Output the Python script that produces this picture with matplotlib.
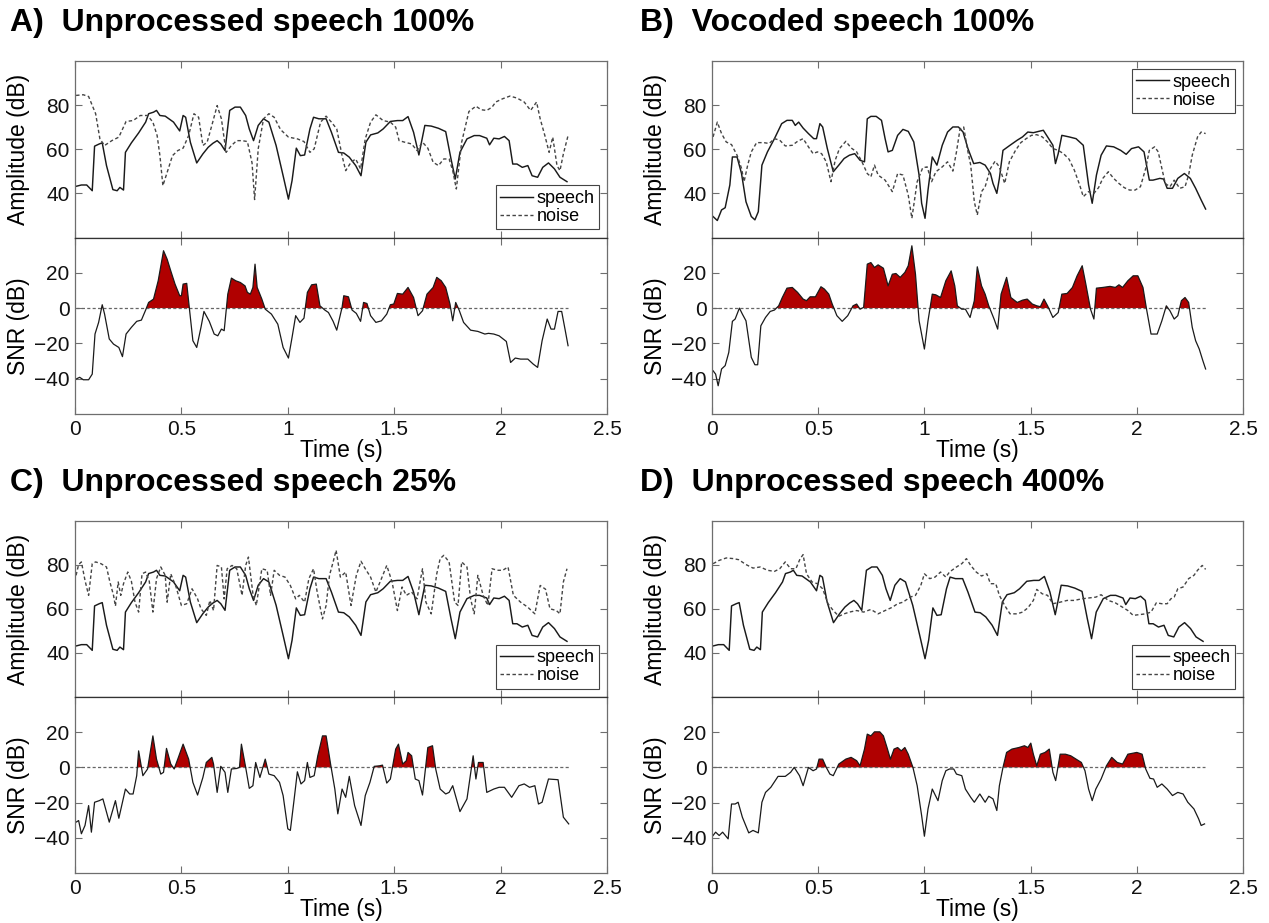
import numpy as np
import matplotlib
matplotlib.use('Agg')
import matplotlib.pyplot as plt

plt.rcParams['font.family'] = ['Liberation Sans', 'DejaVu Sans']

# ---------------- data: (time s, value dB) ----------------
# unprocessed speech envelope (same in panels A, C, D)
speech_unproc = [
    (0.005, 43.2), (0.030, 43.8), (0.055, 43.8), (0.081, 41.2), (0.092, 61.4), (0.114, 62.4),
    (0.128, 62.9), (0.148, 52.6), (0.178, 41.7), (0.198, 41.2), (0.211, 42.7), (0.228, 41.5),
    (0.237, 58.6), (0.265, 62.9), (0.299, 67.4), (0.332, 72.3), (0.346, 76.1), (0.369, 76.8),
    (0.383, 77.6), (0.399, 75.3), (0.424, 75.0), (0.463, 72.3), (0.492, 68.3), (0.508, 75.3),
    (0.520, 74.5), (0.542, 63.2), (0.572, 53.8), (0.601, 57.9), (0.626, 60.9), (0.648, 62.7),
    (0.668, 63.9), (0.685, 62.4), (0.705, 59.4), (0.727, 77.6), (0.752, 79.1), (0.777, 79.1),
    (0.802, 75.3), (0.819, 69.2), (0.839, 63.9), (0.861, 70.8), (0.886, 73.8), (0.911, 72.3),
    (0.945, 61.7), (0.978, 48.0), (1.003, 37.4), (1.020, 45.8), (1.040, 60.5), (1.059, 57.1),
    (1.079, 57.4), (1.104, 69.2), (1.121, 74.5), (1.146, 73.8), (1.180, 73.8), (1.205, 67.7),
    (1.238, 58.6), (1.263, 58.3), (1.289, 56.4), (1.319, 52.6), (1.344, 48.0), (1.367, 63.2),
    (1.389, 66.5), (1.423, 67.4), (1.448, 69.2), (1.482, 72.6), (1.515, 73.0), (1.540, 73.0),
    (1.565, 74.8), (1.591, 67.7), (1.616, 57.4), (1.644, 70.8), (1.674, 70.5), (1.708, 69.5),
    (1.742, 68.0), (1.767, 55.6), (1.787, 46.5), (1.809, 58.6), (1.842, 64.7), (1.876, 66.2),
    (1.901, 66.2), (1.935, 65.0), (1.948, 62.0), (1.968, 65.0), (1.993, 64.7), (2.018, 65.8),
    (2.040, 63.9), (2.057, 53.3), (2.077, 53.3), (2.102, 51.8), (2.128, 52.6), (2.148, 48.0),
    (2.174, 47.3), (2.198, 51.8), (2.225, 53.8), (2.253, 51.1), (2.279, 47.3), (2.312, 45.3),
]

# A) noise at 100 %
noise_a = [
    (0.005, 84.4), (0.039, 84.7), (0.064, 83.9), (0.097, 76.1), (0.117, 64.7), (0.139, 61.7),
    (0.173, 63.9), (0.206, 65.5), (0.240, 72.6), (0.273, 73.0), (0.307, 75.3), (0.341, 75.3),
    (0.366, 72.3), (0.386, 66.2), (0.399, 57.1), (0.413, 43.5), (0.433, 49.5), (0.458, 57.1),
    (0.483, 59.4), (0.508, 60.5), (0.534, 66.2), (0.559, 76.1), (0.581, 74.5), (0.601, 61.7),
    (0.621, 63.2), (0.643, 70.8), (0.668, 79.8), (0.688, 73.8), (0.710, 58.6), (0.735, 61.7),
    (0.760, 63.9), (0.785, 63.9), (0.810, 63.5), (0.832, 53.8), (0.844, 37.2), (0.861, 60.2),
    (0.886, 73.8), (0.911, 76.1), (0.936, 74.5), (0.966, 68.9), (1.003, 65.5), (1.045, 64.7),
    (1.076, 63.5), (1.104, 58.6), (1.124, 60.2), (1.154, 72.3), (1.180, 75.0), (1.205, 72.3),
    (1.230, 69.2), (1.255, 57.1), (1.272, 50.3), (1.297, 54.1), (1.319, 55.6), (1.342, 51.1),
    (1.364, 64.7), (1.389, 72.3), (1.414, 75.6), (1.448, 73.0), (1.482, 72.3), (1.507, 70.0),
    (1.523, 63.9), (1.549, 63.2), (1.582, 62.4), (1.607, 59.4), (1.633, 63.2), (1.658, 60.5),
    (1.683, 54.1), (1.708, 52.6), (1.733, 55.6), (1.758, 55.6), (1.775, 50.3), (1.792, 42.0),
    (1.817, 63.2), (1.851, 77.1), (1.884, 79.5), (1.909, 77.9), (1.935, 77.6), (1.960, 79.1),
    (1.977, 81.4), (2.010, 82.9), (2.044, 84.1), (2.077, 83.2), (2.111, 81.4), (2.141, 77.6),
    (2.169, 81.4), (2.186, 73.8), (2.208, 66.2), (2.228, 58.6), (2.245, 65.5), (2.265, 52.6),
    (2.279, 50.3), (2.295, 57.9), (2.317, 66.2),
]

snr_a = [
    (0.005, -40.2), (0.022, -39.2), (0.039, -40.6), (0.064, -40.6), (0.081, -37.4), (0.094, -14.7),
    (0.111, -8.1), (0.128, 1.9), (0.139, -3.4), (0.161, -17.5), (0.181, -20.4), (0.206, -22.3),
    (0.223, -27.5), (0.240, -14.7), (0.265, -10.9), (0.290, -7.5), (0.312, -6.8), (0.332, -1.1),
    (0.346, 3.2), (0.369, 5.1), (0.391, 15.5), (0.416, 32.5), (0.433, 27.7), (0.450, 21.1),
    (0.470, 13.6), (0.492, 7.0), (0.500, 7.0), (0.508, 13.6), (0.525, 14.0), (0.537, 0.4),
    (0.554, -18.5), (0.572, -22.3), (0.592, -10.9), (0.606, -1.9), (0.631, -7.5), (0.654, -14.7),
    (0.671, -15.7), (0.688, -11.9), (0.701, -12.8), (0.718, 7.9), (0.735, 17.0), (0.755, 15.5),
    (0.777, 14.5), (0.799, 12.6), (0.810, 8.9), (0.824, 7.9), (0.836, 11.7), (0.846, 24.9),
    (0.856, 11.7), (0.878, 5.1), (0.894, -0.6), (0.923, -3.4), (0.953, -9.1), (0.978, -22.3),
    (1.003, -28.3), (1.020, -16.6), (1.037, -4.3), (1.057, -8.1), (1.076, -5.7), (1.092, 8.9),
    (1.112, 13.2), (1.134, 13.6), (1.151, 1.3), (1.174, -1.1), (1.191, -2.5), (1.213, -7.5),
    (1.230, -12.5), (1.255, 0.4), (1.263, 7.0), (1.285, 6.4), (1.302, -1.1), (1.322, -3.0),
    (1.342, -7.5), (1.356, 3.2), (1.372, 2.6), (1.389, -4.3), (1.414, -8.1), (1.440, -7.2),
    (1.465, -3.4), (1.482, 1.9), (1.498, 2.3), (1.515, 8.3), (1.540, 7.9), (1.565, 11.7),
    (1.591, 6.0), (1.612, -4.3), (1.633, -1.5), (1.654, 7.9), (1.683, 11.7), (1.700, 17.4),
    (1.721, 15.5), (1.742, 11.7), (1.762, 2.3), (1.775, -7.2), (1.789, 3.2), (1.805, -1.1),
    (1.826, -8.1), (1.859, -12.5), (1.893, -13.2), (1.926, -14.7), (1.943, -14.3), (1.968, -14.7),
    (1.993, -15.7), (2.027, -18.9), (2.047, -30.8), (2.069, -28.3), (2.094, -28.9), (2.128, -28.9),
    (2.153, -31.7), (2.174, -33.6), (2.195, -18.5), (2.219, -6.2), (2.237, -11.9), (2.253, -11.9),
    (2.270, -1.9), (2.287, -1.9), (2.304, -12.8), (2.317, -21.3),
]

# B) vocoded speech and noise at 100 %
speech_b = [
    (0.005, 29.5), (0.025, 27.7), (0.045, 32.5), (0.062, 33.5), (0.084, 43.8), (0.096, 56.5),
    (0.118, 56.5), (0.139, 49.0), (0.160, 36.2), (0.185, 29.5), (0.202, 28.0), (0.218, 31.7),
    (0.235, 52.8), (0.261, 58.8), (0.294, 64.8), (0.328, 71.6), (0.353, 73.1), (0.378, 73.1),
    (0.392, 70.8), (0.408, 72.3), (0.429, 69.6), (0.454, 67.1), (0.479, 64.8), (0.492, 64.8),
    (0.508, 71.6), (0.521, 70.1), (0.543, 60.3), (0.571, 49.8), (0.597, 52.8), (0.622, 55.8),
    (0.647, 57.3), (0.672, 58.0), (0.697, 55.0), (0.718, 54.3), (0.731, 73.8), (0.748, 74.9),
    (0.773, 74.9), (0.798, 73.1), (0.815, 64.8), (0.829, 58.8), (0.849, 59.5), (0.874, 66.3),
    (0.899, 69.0), (0.924, 68.1), (0.950, 63.3), (0.975, 48.3), (0.987, 35.5), (1.003, 28.7),
    (1.017, 41.5), (1.037, 56.5), (1.059, 52.8), (1.084, 61.8), (1.109, 67.8), (1.134, 70.1),
    (1.160, 70.1), (1.182, 67.8), (1.205, 60.3), (1.232, 53.5), (1.261, 54.0), (1.286, 52.8),
    (1.311, 49.0), (1.323, 44.5), (1.341, 40.0), (1.353, 46.8), (1.370, 59.5), (1.403, 61.8),
    (1.437, 64.1), (1.462, 65.6), (1.487, 67.8), (1.513, 67.5), (1.538, 68.1), (1.560, 68.6),
    (1.580, 65.6), (1.605, 61.8), (1.617, 53.5), (1.630, 58.0), (1.647, 66.3), (1.681, 65.6),
    (1.714, 64.8), (1.748, 61.8), (1.773, 43.8), (1.790, 35.5), (1.810, 48.3), (1.832, 57.3),
    (1.857, 61.5), (1.891, 61.1), (1.924, 59.5), (1.950, 57.7), (1.975, 60.3), (2.008, 61.1),
    (2.034, 58.8), (2.059, 46.0), (2.076, 46.0), (2.109, 46.8), (2.126, 46.5), (2.143, 42.3),
    (2.168, 42.3), (2.193, 46.8), (2.224, 49.0), (2.252, 46.8), (2.277, 42.3), (2.303, 37.0),
    (2.324, 32.9),
]

noise_b = [
    (0.005, 65.6), (0.025, 72.3), (0.045, 67.1), (0.067, 63.3), (0.092, 62.1), (0.118, 57.3),
    (0.139, 51.3), (0.151, 45.3), (0.168, 52.8), (0.185, 58.8), (0.210, 63.0), (0.244, 63.0),
    (0.269, 62.6), (0.294, 64.8), (0.319, 64.1), (0.345, 61.5), (0.378, 61.8), (0.403, 63.6),
    (0.429, 64.8), (0.454, 61.1), (0.476, 58.0), (0.496, 58.8), (0.516, 58.0), (0.538, 54.3),
    (0.560, 45.3), (0.580, 55.0), (0.600, 60.3), (0.630, 63.6), (0.655, 60.6), (0.681, 58.8),
    (0.706, 54.3), (0.731, 49.0), (0.748, 47.5), (0.765, 52.8), (0.782, 48.3), (0.815, 46.0),
    (0.849, 40.8), (0.874, 49.0), (0.899, 48.3), (0.924, 39.2), (0.941, 28.7), (0.966, 45.3),
    (0.992, 51.6), (1.013, 52.0), (1.034, 45.3), (1.054, 49.8), (1.084, 52.0), (1.109, 54.3),
    (1.134, 50.1), (1.151, 58.8), (1.168, 69.3), (1.185, 70.1), (1.202, 60.3), (1.218, 52.8),
    (1.235, 36.2), (1.249, 30.2), (1.269, 40.8), (1.286, 43.0), (1.311, 51.3), (1.333, 54.6),
    (1.353, 52.0), (1.378, 44.5), (1.400, 54.3), (1.429, 59.5), (1.454, 63.0), (1.479, 64.8),
    (1.504, 66.3), (1.529, 66.6), (1.555, 65.6), (1.580, 63.3), (1.605, 60.3), (1.630, 59.5),
    (1.655, 58.0), (1.681, 55.5), (1.706, 50.5), (1.731, 43.8), (1.748, 38.5), (1.773, 40.8),
    (1.798, 40.0), (1.820, 42.6), (1.840, 46.8), (1.866, 49.8), (1.891, 46.8), (1.916, 44.5),
    (1.941, 42.6), (1.966, 41.5), (1.992, 41.5), (2.017, 43.0), (2.042, 51.3), (2.059, 59.5),
    (2.084, 61.1), (2.101, 58.8), (2.118, 51.3), (2.134, 44.5), (2.156, 43.0), (2.176, 46.0),
    (2.202, 42.3), (2.227, 43.0), (2.244, 48.3), (2.261, 57.3), (2.286, 65.6), (2.303, 67.8),
    (2.324, 67.1),
]

snr_b = [
    (0.005, -35.5), (0.017, -37.4), (0.029, -44.0), (0.045, -34.5), (0.062, -32.6), (0.079, -25.1),
    (0.096, -7.5), (0.109, -6.2), (0.129, 0.0), (0.143, -3.4), (0.160, -7.2), (0.185, -27.9),
    (0.202, -32.1), (0.215, -32.1), (0.230, -10.0), (0.252, -5.3), (0.274, -1.9), (0.294, -1.1),
    (0.314, 1.3), (0.331, 6.0), (0.353, 11.3), (0.378, 11.7), (0.403, 8.9), (0.429, 5.1),
    (0.445, 4.2), (0.462, 6.4), (0.487, 6.4), (0.513, 12.1), (0.529, 10.8), (0.550, 7.9),
    (0.566, 2.3), (0.588, -4.3), (0.613, -7.5), (0.639, -4.3), (0.664, 1.3), (0.681, 2.3),
    (0.697, -0.6), (0.714, 0.4), (0.731, 24.9), (0.748, 25.8), (0.765, 23.0), (0.782, 24.5),
    (0.807, 22.6), (0.829, 12.6), (0.849, 19.2), (0.866, 19.6), (0.886, 17.4), (0.908, 20.2),
    (0.924, 24.0), (0.941, 35.3), (0.958, 19.2), (0.975, -7.2), (1.000, -23.2), (1.017, -7.2),
    (1.037, 7.9), (1.054, 7.5), (1.076, 6.0), (1.101, 15.5), (1.126, 21.1), (1.143, 12.6),
    (1.155, 1.3), (1.176, -0.6), (1.193, -0.6), (1.215, -5.3), (1.235, 4.2), (1.249, 23.4),
    (1.269, 12.6), (1.286, 7.9), (1.303, 1.3), (1.328, -6.2), (1.345, -11.9), (1.361, 7.9),
    (1.387, 17.4), (1.407, 6.0), (1.437, 3.2), (1.462, 4.5), (1.484, 5.1), (1.508, 2.3),
    (1.529, 1.3), (1.546, 0.8), (1.563, 5.1), (1.580, 1.3), (1.605, -5.3), (1.630, -2.5),
    (1.647, 7.9), (1.672, 8.3), (1.697, 11.7), (1.719, 18.3), (1.743, 24.0), (1.760, 13.6),
    (1.782, -0.6), (1.798, -6.2), (1.810, 11.3), (1.840, 11.7), (1.874, 12.3), (1.899, 11.7),
    (1.916, 13.2), (1.933, 11.7), (1.958, 15.5), (1.983, 18.3), (2.005, 18.3), (2.029, 11.7),
    (2.045, 0.0), (2.067, -14.7), (2.096, -14.7), (2.118, -7.2), (2.139, 1.3), (2.156, -1.5),
    (2.176, -6.2), (2.193, -4.3), (2.210, 4.2), (2.227, 6.0), (2.244, 3.2), (2.261, -10.9),
    (2.277, -18.5), (2.294, -23.2), (2.311, -29.8), (2.324, -34.5),
]

# C) noise at 25 %
noise_c = [
    (0.005, 75.3), (0.017, 80.2), (0.030, 81.4), (0.047, 73.0), (0.064, 66.2), (0.081, 80.6),
    (0.097, 81.4), (0.122, 80.6), (0.148, 79.1), (0.164, 72.3), (0.181, 66.2), (0.190, 61.3),
    (0.203, 72.3), (0.215, 66.2), (0.228, 71.5), (0.248, 76.8), (0.265, 72.6), (0.282, 63.1),
    (0.299, 58.6), (0.315, 76.0), (0.332, 76.8), (0.349, 72.6), (0.366, 58.6), (0.383, 73.8),
    (0.403, 79.1), (0.424, 75.3), (0.433, 63.1), (0.450, 76.0), (0.475, 70.0), (0.500, 61.6),
    (0.525, 62.4), (0.550, 69.2), (0.576, 64.6), (0.592, 60.1), (0.617, 57.1), (0.634, 63.9),
    (0.651, 59.3), (0.668, 79.8), (0.688, 79.1), (0.701, 64.6), (0.715, 78.3), (0.738, 79.8),
    (0.760, 78.3), (0.785, 66.2), (0.802, 79.8), (0.815, 83.6), (0.836, 66.9), (0.852, 61.6),
    (0.878, 78.3), (0.903, 77.6), (0.919, 66.2), (0.936, 77.6), (0.961, 75.3), (0.987, 74.5),
    (1.012, 70.7), (1.037, 64.6), (1.054, 66.2), (1.079, 63.1), (1.099, 73.8), (1.121, 78.3),
    (1.138, 67.7), (1.163, 55.5), (1.180, 61.6), (1.196, 75.3), (1.213, 81.4), (1.227, 86.7),
    (1.247, 74.5), (1.272, 76.8), (1.297, 61.6), (1.322, 75.3), (1.344, 81.7), (1.364, 78.3),
    (1.389, 74.5), (1.414, 67.7), (1.440, 73.8), (1.465, 79.8), (1.490, 72.3), (1.515, 59.3),
    (1.537, 70.0), (1.557, 66.2), (1.582, 67.7), (1.607, 64.6), (1.633, 78.3), (1.649, 63.1),
    (1.674, 57.8), (1.700, 76.0), (1.716, 82.9), (1.733, 84.4), (1.758, 81.4), (1.784, 63.1),
    (1.800, 61.6), (1.817, 81.4), (1.842, 79.1), (1.859, 64.6), (1.876, 57.8), (1.893, 75.3),
    (1.918, 66.2), (1.940, 61.6), (1.960, 78.3), (1.985, 77.6), (2.010, 77.6), (2.035, 79.1),
    (2.060, 66.2), (2.094, 63.1), (2.128, 60.8), (2.161, 57.8), (2.186, 70.7), (2.211, 69.0),
    (2.232, 60.1), (2.262, 59.3), (2.279, 57.8), (2.295, 72.3), (2.312, 78.3),
]

snr_c = [
    (0.005, -31.1), (0.017, -30.2), (0.030, -37.7), (0.047, -33.0), (0.064, -21.7), (0.077, -36.8),
    (0.092, -19.8), (0.114, -18.9), (0.131, -17.9), (0.161, -31.1), (0.190, -18.9), (0.206, -28.9),
    (0.237, -12.3), (0.257, -15.1), (0.273, -15.1), (0.290, -4.7), (0.299, 9.4), (0.319, -4.7),
    (0.341, -0.9), (0.366, 17.9), (0.383, 4.7), (0.403, -3.8), (0.416, -2.8), (0.430, 10.8),
    (0.450, 1.9), (0.466, -0.9), (0.483, 4.7), (0.508, 13.2), (0.534, 4.7), (0.554, -8.5),
    (0.576, -15.7), (0.601, -5.7), (0.617, 2.8), (0.643, 5.7), (0.651, 1.9), (0.668, -14.2),
    (0.685, 0.6), (0.705, -2.8), (0.718, -14.2), (0.735, -0.9), (0.760, -0.6), (0.773, 0.0),
    (0.782, 13.2), (0.802, 0.0), (0.819, -11.9), (0.836, -10.4), (0.849, 2.8), (0.869, -5.7),
    (0.894, 4.7), (0.911, -3.8), (0.936, -4.7), (0.961, -8.5), (0.978, -16.0), (1.000, -34.9),
    (1.012, -35.8), (1.029, -18.9), (1.045, -2.5), (1.062, -9.4), (1.079, -7.5), (1.092, 2.8),
    (1.104, -5.7), (1.124, -4.7), (1.141, 6.6), (1.163, 17.9), (1.180, 17.9), (1.201, 1.9),
    (1.221, -12.3), (1.235, -26.4), (1.255, -12.3), (1.272, -17.0), (1.289, -5.1), (1.314, -21.7),
    (1.344, -33.0), (1.364, -16.0), (1.386, -8.5), (1.406, 0.6), (1.431, 0.9), (1.445, 1.3),
    (1.465, -8.9), (1.482, -6.6), (1.507, 10.4), (1.520, 13.2), (1.540, 1.9), (1.557, 3.8),
    (1.565, 8.5), (1.582, 6.6), (1.599, -6.6), (1.616, -7.5), (1.633, -15.7), (1.658, 11.3),
    (1.680, 12.3), (1.695, -0.9), (1.716, -12.3), (1.742, -15.1), (1.758, -14.2), (1.775, -10.4),
    (1.809, -25.1), (1.842, -17.9), (1.871, 6.6), (1.884, -6.6), (1.896, 2.8), (1.918, 2.8),
    (1.935, -14.2), (1.968, -12.3), (1.993, -11.3), (2.018, -11.3), (2.052, -17.0), (2.086, -10.4),
    (2.111, -9.4), (2.136, -11.3), (2.161, -10.4), (2.178, -20.8), (2.195, -19.8), (2.225, -6.6),
    (2.270, -7.0), (2.295, -28.3), (2.320, -32.1),
]

# D) noise at 400 %
noise_d = [
    (0.005, 80.6), (0.034, 82.1), (0.067, 83.2), (0.101, 82.9), (0.126, 82.4), (0.160, 80.2),
    (0.193, 78.6), (0.227, 79.1), (0.261, 77.6), (0.294, 77.1), (0.319, 78.3), (0.345, 81.4),
    (0.370, 78.3), (0.395, 78.3), (0.415, 82.9), (0.429, 84.7), (0.445, 76.0), (0.471, 72.3),
    (0.496, 71.5), (0.521, 69.2), (0.546, 62.4), (0.571, 59.3), (0.597, 56.7), (0.622, 57.8),
    (0.647, 58.6), (0.681, 59.3), (0.714, 58.6), (0.748, 59.8), (0.782, 57.8), (0.815, 59.3),
    (0.849, 60.8), (0.874, 62.4), (0.899, 63.1), (0.933, 65.4), (0.958, 66.2), (0.983, 70.7),
    (1.000, 76.0), (1.025, 73.8), (1.050, 74.5), (1.076, 76.8), (1.101, 74.5), (1.118, 76.8),
    (1.151, 79.1), (1.176, 80.6), (1.198, 82.9), (1.218, 79.8), (1.244, 76.8), (1.269, 75.0),
    (1.294, 76.0), (1.311, 71.5), (1.336, 71.5), (1.353, 66.2), (1.378, 61.6), (1.403, 57.8),
    (1.437, 57.8), (1.462, 58.6), (1.487, 60.5), (1.513, 63.9), (1.529, 68.9), (1.555, 66.9),
    (1.580, 66.2), (1.605, 62.4), (1.639, 63.1), (1.672, 63.9), (1.706, 63.9), (1.739, 64.6),
    (1.773, 65.0), (1.807, 65.4), (1.832, 66.5), (1.866, 63.9), (1.899, 62.8), (1.933, 60.8),
    (1.958, 59.3), (1.983, 57.1), (2.008, 57.4), (2.042, 57.8), (2.067, 58.6), (2.092, 62.8),
    (2.118, 62.4), (2.143, 62.4), (2.160, 64.6), (2.176, 65.4), (2.193, 69.2), (2.218, 70.0),
    (2.244, 73.8), (2.269, 75.3), (2.286, 77.6), (2.308, 79.8), (2.324, 78.0),
]

snr_d = [
    (0.005, -38.7), (0.017, -36.8), (0.034, -38.7), (0.050, -36.8), (0.076, -40.6), (0.092, -20.8),
    (0.109, -20.8), (0.123, -19.8), (0.143, -28.3), (0.173, -37.2), (0.193, -35.8), (0.218, -37.2),
    (0.235, -19.8), (0.252, -14.2), (0.277, -11.3), (0.311, -5.1), (0.345, -5.1), (0.370, -2.8),
    (0.387, 0.0), (0.412, -4.7), (0.429, -10.4), (0.454, 0.0), (0.476, -1.9), (0.492, -0.9),
    (0.504, 4.7), (0.521, 4.7), (0.538, 0.0), (0.555, -3.8), (0.571, -4.7), (0.597, 1.9),
    (0.630, 4.7), (0.655, 5.7), (0.681, 3.8), (0.697, 0.9), (0.718, 10.4), (0.731, 18.9),
    (0.748, 17.9), (0.765, 20.2), (0.790, 20.2), (0.807, 17.9), (0.824, 11.3), (0.840, 4.7),
    (0.857, 10.4), (0.874, 11.3), (0.891, 9.4), (0.908, 11.3), (0.924, 7.5), (0.946, 0.0),
    (0.966, -10.4), (0.987, -27.4), (1.000, -39.1), (1.017, -23.6), (1.037, -12.3), (1.064, -18.9),
    (1.084, -7.5), (1.101, -1.9), (1.118, -0.9), (1.138, -0.9), (1.151, -3.8), (1.176, -4.7),
    (1.193, -12.3), (1.218, -17.0), (1.235, -19.8), (1.261, -15.1), (1.286, -19.8), (1.303, -16.4),
    (1.323, -17.9), (1.341, -24.5), (1.353, -10.4), (1.370, 0.0), (1.387, 8.5), (1.412, 10.4),
    (1.445, 11.3), (1.471, 12.3), (1.487, 11.3), (1.501, 13.8), (1.513, 7.5), (1.529, 0.9),
    (1.546, 7.5), (1.568, 8.5), (1.588, 10.4), (1.605, -2.8), (1.618, -7.5), (1.639, 7.5),
    (1.664, 7.5), (1.689, 6.6), (1.714, 4.7), (1.739, 2.8), (1.756, -1.9), (1.773, -12.3),
    (1.790, -18.9), (1.807, -12.3), (1.832, -6.6), (1.857, 0.9), (1.882, 5.7), (1.908, 2.8),
    (1.933, 1.9), (1.958, 7.5), (2.000, 8.5), (2.025, 7.5), (2.042, -0.9), (2.062, -6.2),
    (2.079, -6.6), (2.096, -11.3), (2.118, -9.4), (2.143, -12.3), (2.168, -16.0), (2.193, -14.2),
    (2.218, -15.1), (2.240, -19.8), (2.269, -23.6), (2.291, -29.2), (2.303, -33.0), (2.319, -32.1),
]

titles = ["A)  Unprocessed speech 100%", "B)  Vocoded speech 100%",
          "C)  Unprocessed speech 25%", "D)  Unprocessed speech 400%"]
xtick_vals = [0, 0.5, 1, 1.5, 2, 2.5]
xtick_labels = ["0", "0.5", "1", "1.5", "2", "2.5"]
amp_ticks = [40, 60, 80]
snr_ticks = [-40, -20, 0, 20]
legend_labels = ["speech", "noise"]

# ---------------- figure ----------------
W, H = 1269, 923
fig = plt.figure(figsize=(W / 100, H / 100), dpi=100)
fig.patch.set_facecolor('white')

SPINE = '#6e6e6e'
LINE = '#1a1a1a'
RED = '#b00000'


def px_rect(x0, y0, x1, y1):
    return [x0 / W, 1 - y1 / H, (x1 - x0) / W, (y1 - y0) / H]


def style(ax):
    for s in ax.spines.values():
        s.set_color(SPINE)
        s.set_linewidth(0.9)
    ax.tick_params(direction='in', top=True, right=True, length=5, width=0.8,
                   colors=SPINE, labelcolor='#111111', labelsize=15, pad=4)
    ax.set_xlim(0, 2.5)
    ax.set_xticks(xtick_vals)


panels = [
    (titles[0], (75, 607), (61, 237.5, 414), speech_unproc, noise_a, snr_a, 'lower right', (10, 23)),
    (titles[1], (712, 1243), (61, 237.5, 414), speech_b, noise_b, snr_b, 'upper right', (640, 23)),
    (titles[2], (75, 607), (521, 697, 873), speech_unproc, noise_c, snr_c, 'lower right', (10, 483)),
    (titles[3], (712, 1243), (521, 697, 873), speech_unproc, noise_d, snr_d, 'lower right', (640, 483)),
]

for title, (x0, x1), (ya, yb, yc), sp, nz, snr, lloc, (tx, ty) in panels:
    axt = fig.add_axes(px_rect(x0, ya, x1, yb))
    axb = fig.add_axes(px_rect(x0, yb, x1, yc))
    for ax in (axt, axb):
        style(ax)
    axt.spines['bottom'].set_color('#333333')
    axb.spines['top'].set_color('#333333')

    ts, vs = np.array(sp).T
    tn, vn = np.array(nz).T
    axt.plot(ts, vs, color=LINE, lw=1.05, label=legend_labels[0])
    axt.plot(tn, vn, color='#444444', lw=1.0, ls=(0, (2.5, 1.8)), label=legend_labels[1])
    axt.set_ylim(20, 100)
    axt.set_yticks(amp_ticks)
    axt.set_xticklabels([])
    axt.set_ylabel("Amplitude (dB)", fontsize=16.5)
    axt.yaxis.set_label_coords(-45 / (x1 - x0), 0.5)
    leg = axt.legend(loc=lloc, fontsize=13, handlelength=1.8, handletextpad=0.2,
                     borderpad=0.25, labelspacing=0.05, borderaxespad=0.45,
                     fancybox=False, framealpha=1, edgecolor='#444444')
    leg.get_frame().set_linewidth(0.8)

    tr, vr = np.array(snr).T
    axb.fill_between(tr, vr, 0, where=vr > 0, interpolate=True, color=RED, lw=0)
    axb.hlines(0, tr[0], tr[-1], colors='#666666', linestyles=(0, (2.5, 1.8)), lw=0.9)
    axb.plot(tr, vr, color=LINE, lw=0.9)
    axb.set_ylim(-60, 40)
    axb.set_yticks(snr_ticks)
    axb.set_xticklabels(xtick_labels)
    axb.set_ylabel("SNR (dB)", fontsize=16.5)
    axb.yaxis.set_label_coords(-45 / (x1 - x0), 0.5)
    axb.set_xlabel("Time (s)", fontsize=16.5, labelpad=0)

    fig.text(tx / W, 1 - ty / H, title, fontsize=23, fontweight='bold',
             ha='left', va='center', color='black')

fig.savefig('out.png', dpi=100, facecolor='white')
